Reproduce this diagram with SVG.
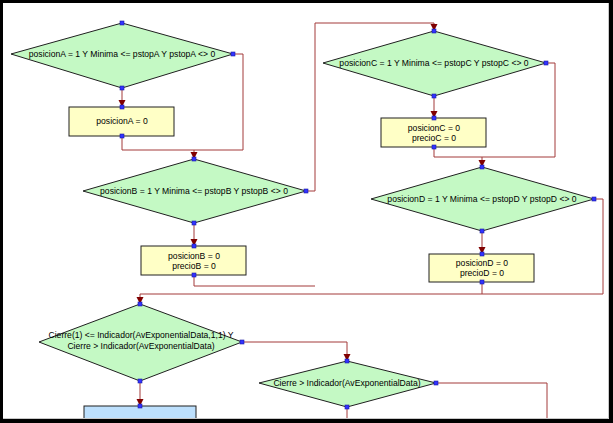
<svg xmlns="http://www.w3.org/2000/svg" width="613" height="423" viewBox="0 0 613 423">
<defs>
<style>
.dia{fill:#c4f9c4;stroke:#202020;stroke-width:1}
.box{fill:#ffffc6;stroke:#202020;stroke-width:1}
.boxb{fill:#bde0fd;stroke:#202020;stroke-width:1}
.t{font-family:"Liberation Sans",Arial,sans-serif;font-size:8.6px;fill:#000;text-anchor:middle}
.c{fill:none;stroke:#a33a3a;stroke-width:1}
.pt{fill:#3333ff;stroke:#1a1aa0;stroke-width:0.6}
</style>
<marker id="ah" markerUnits="userSpaceOnUse" markerWidth="10" markerHeight="10" viewBox="0 0 10 10" refX="7" refY="5" orient="auto">
<path d="M0,1.5 L7,5 L0,8.5 Z" fill="#800000"/>
</marker>
</defs>
<rect x="0" y="0" width="613" height="423" fill="#ffffff"/>
<g id="connectors">
<path class="c" d="M122,88 V107" marker-end="url(#ah)"/>
<path class="c" d="M233,54 H243 V150 H194 V159" marker-end="url(#ah)"/>
<path class="c" d="M122,136 V150 H194"/>
<path class="c" d="M194,223 V246" marker-end="url(#ah)"/>
<path class="c" d="M306,191 H315 V23 H434 V31" marker-end="url(#ah)"/>
<path class="c" d="M194,275 V286 H315"/>
<path class="c" d="M434,96 V118" marker-end="url(#ah)"/>
<path class="c" d="M546,63 H555 V157 H482 V167" marker-end="url(#ah)"/>
<path class="c" d="M434,147 V157 H482"/>
<path class="c" d="M482,231 V254" marker-end="url(#ah)"/>
<path class="c" d="M594,199 H603 V294 H140 V304" marker-end="url(#ah)"/>
<path class="c" d="M482,282 V294"/>
<path class="c" d="M242,342 H347 V361" marker-end="url(#ah)"/>
<path class="c" d="M140,381 V406" marker-end="url(#ah)"/>
<path class="c" d="M436,383 H547 V425" marker-end="url(#ah)"/>
<path class="c" d="M347,407 V425" marker-end="url(#ah)"/>
</g>
<g id="decA">
<polygon class="dia" points="122,23 233,54 122,88 11,54"/>
<text class="t" x="122" y="57">posicionA = 1 Y Minima &lt;= pstopA Y pstopA &lt;&gt; 0</text>
<rect class="pt" x="120" y="21" width="4" height="4"/><rect class="pt" x="120" y="86" width="4" height="4"/><rect class="pt" x="231" y="52" width="4" height="4"/>
</g>
<g id="actA">
<rect class="box" x="69" y="107" width="105" height="29"/>
<text class="t" x="122" y="124">posicionA = 0</text>
<rect class="pt" x="120" y="105" width="4" height="4"/><rect class="pt" x="120" y="134" width="4" height="4"/>
</g>
<g id="decB">
<polygon class="dia" points="194,159 306,191 194,223 83,191"/>
<text class="t" x="194" y="194">posicionB = 1 Y Minima &lt;= pstopB Y pstopB &lt;&gt; 0</text>
<rect class="pt" x="192" y="157" width="4" height="4"/><rect class="pt" x="192" y="221" width="4" height="4"/><rect class="pt" x="304" y="189" width="4" height="4"/>
</g>
<g id="actB">
<rect class="box" x="141" y="246" width="105" height="29"/>
<text class="t" x="194" y="259">posicionB = 0</text>
<text class="t" x="194" y="269">precioB = 0</text>
<rect class="pt" x="192" y="244" width="4" height="4"/><rect class="pt" x="192" y="273" width="4" height="4"/>
</g>
<g id="decC">
<polygon class="dia" points="434,31 546,63 434,96 323,63"/>
<text class="t" x="434" y="66">posicionC = 1 Y Minima &lt;= pstopC Y pstopC &lt;&gt; 0</text>
<rect class="pt" x="432" y="29" width="4" height="4"/><rect class="pt" x="432" y="94" width="4" height="4"/><rect class="pt" x="544" y="61" width="4" height="4"/>
</g>
<g id="actC">
<rect class="box" x="381" y="118" width="105" height="29"/>
<text class="t" x="434" y="131">posicionC = 0</text>
<text class="t" x="434" y="141">precioC = 0</text>
<rect class="pt" x="432" y="116" width="4" height="4"/><rect class="pt" x="432" y="145" width="4" height="4"/>
</g>
<g id="decD">
<polygon class="dia" points="482,167 594,199 482,231 371,199"/>
<text class="t" x="482" y="202">posicionD = 1 Y Minima &lt;= pstopD Y pstopD &lt;&gt; 0</text>
<rect class="pt" x="480" y="165" width="4" height="4"/><rect class="pt" x="480" y="229" width="4" height="4"/><rect class="pt" x="592" y="197" width="4" height="4"/>
</g>
<g id="actD">
<rect class="box" x="429" y="254" width="105" height="28"/>
<text class="t" x="482" y="266">posicionD = 0</text>
<text class="t" x="482" y="276">precioD = 0</text>
<rect class="pt" x="480" y="252" width="4" height="4"/><rect class="pt" x="480" y="280" width="4" height="4"/>
</g>
<g id="decE">
<polygon class="dia" points="140,304 242,342 140,381 39,342"/>
<text class="t" x="141" y="338">Cierre(1) &lt;= Indicador(AvExponentialData,1,1) Y</text>
<text class="t" x="141" y="349">Cierre &gt; Indicador(AvExponentialData)</text>
<rect class="pt" x="138" y="302" width="4" height="4"/><rect class="pt" x="138" y="379" width="4" height="4"/><rect class="pt" x="240" y="340" width="4" height="4"/>
</g>
<g id="decF">
<polygon class="dia" points="347,361 436,383 347,407 259,383"/>
<text class="t" x="347" y="386">Cierre &gt; Indicador(AvExponentialData)</text>
<rect class="pt" x="345" y="359" width="4" height="4"/><rect class="pt" x="345" y="405" width="4" height="4"/><rect class="pt" x="434" y="381" width="4" height="4"/>
</g>
<g id="actG">
<rect class="boxb" x="84" y="406" width="112" height="20"/>
<rect class="pt" x="138" y="404" width="4" height="4"/>
</g>
<g id="frame">
<path d="M608.5,3 V418.5 H3" fill="none" stroke="#c8c8c8" stroke-width="1"/>
<path d="M0,0 H613 V423 H0 Z M3,3 V419 H609 V3 Z" fill="#000" fill-rule="evenodd"/>
</g>
</svg>
